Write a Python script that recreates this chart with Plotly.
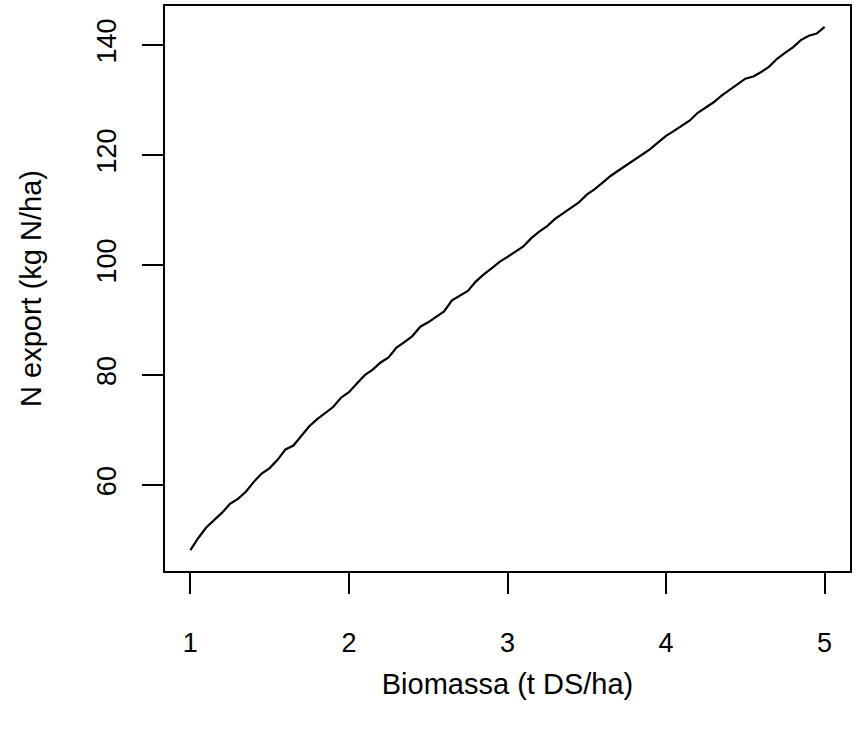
import plotly.graph_objects as go

biomassa = [1.00, 1.05, 1.10, 1.15, 1.20, 1.25, 1.30, 1.35, 1.40, 1.45,
            1.50, 1.55, 1.60, 1.65, 1.70, 1.75, 1.80, 1.85, 1.90, 1.95,
            2.00, 2.05, 2.10, 2.15, 2.20, 2.25, 2.30, 2.35, 2.40, 2.45,
            2.50, 2.55, 2.60, 2.65, 2.70, 2.75, 2.80, 2.85, 2.90, 2.95,
            3.00, 3.05, 3.10, 3.15, 3.20, 3.25, 3.30, 3.35, 3.40, 3.45,
            3.50, 3.55, 3.60, 3.65, 3.70, 3.75, 3.80, 3.85, 3.90, 3.95,
            4.00, 4.05, 4.10, 4.15, 4.20, 4.25, 4.30, 4.35, 4.40, 4.45,
            4.50, 4.55, 4.60, 4.65, 4.70, 4.75, 4.80, 4.85, 4.90, 4.95,
            5.00]
n_export = [48.2, 50.4, 52.3, 53.6, 55.0, 56.6, 57.5, 58.8, 60.6, 62.1,
            63.1, 64.6, 66.5, 67.2, 69.0, 70.7, 72.0, 73.1, 74.2, 75.9,
            76.9, 78.5, 80.0, 81.0, 82.3, 83.2, 85.0, 86.0, 87.1, 88.8,
            89.6, 90.6, 91.6, 93.6, 94.5, 95.3, 97.0, 98.3, 99.4, 100.6,
            101.5, 102.4, 103.4, 104.9, 106.1, 107.1, 108.4, 109.4, 110.4, 111.4,
            112.8, 113.8, 115.0, 116.2, 117.2, 118.2, 119.2, 120.2, 121.1, 122.3,
            123.5, 124.4, 125.3, 126.3, 127.7, 128.7, 129.6, 130.8, 131.8, 132.8,
            133.9, 134.3, 135.1, 136.1, 137.5, 138.6, 139.6, 140.9, 141.7, 142.1,
            143.3]

x_ticks = [1, 2, 3, 4, 5]
y_ticks = [60, 80, 100, 120, 140]

x_title = "Biomassa (t DS/ha)"
y_title = "N export (kg N/ha)"

xmin, xmax = min(biomassa), max(biomassa)
ymin, ymax = min(n_export), max(n_export)
dx = 0.04 * (xmax - xmin)
dy = 0.04 * (ymax - ymin)

tick_font = dict(family="Liberation Sans, Arial, sans-serif", size=27, color="black")
title_font = dict(family="Liberation Sans, Arial, sans-serif", size=29, color="black")

fig = go.Figure()
fig.add_trace(go.Scatter(x=biomassa, y=n_export, mode="lines",
                         line=dict(color="black", width=2.2), showlegend=False))

fig.update_layout(
    width=856, height=733,
    margin=dict(l=165, r=4, t=5, b=162),
    paper_bgcolor="white", plot_bgcolor="white",
    font=tick_font,
    xaxis=dict(range=[xmin - dx, xmax + dx], tickvals=x_ticks,
               ticktext=[str(v) for v in x_ticks],
               showgrid=False, zeroline=False, showline=True, mirror=True,
               linecolor="black", linewidth=2,
               ticks="outside", ticklen=21, tickwidth=2, tickcolor="black",
               ticklabelstandoff=26,
               title=dict(text=x_title, standoff=16, font=title_font),
               tickfont=tick_font),
    yaxis=dict(range=[ymin - dy, ymax + dy], tickvals=y_ticks,
               ticktext=[str(v) for v in y_ticks],
               showgrid=False, zeroline=False, showline=True, mirror=True,
               linecolor="black", linewidth=2,
               ticks="outside", ticklen=21, tickwidth=2, tickcolor="black",
               tickangle=-90, ticklabelstandoff=15,
               title=dict(text=y_title, standoff=42, font=title_font),
               tickfont=tick_font),
)

fig.write_html("out.html")
